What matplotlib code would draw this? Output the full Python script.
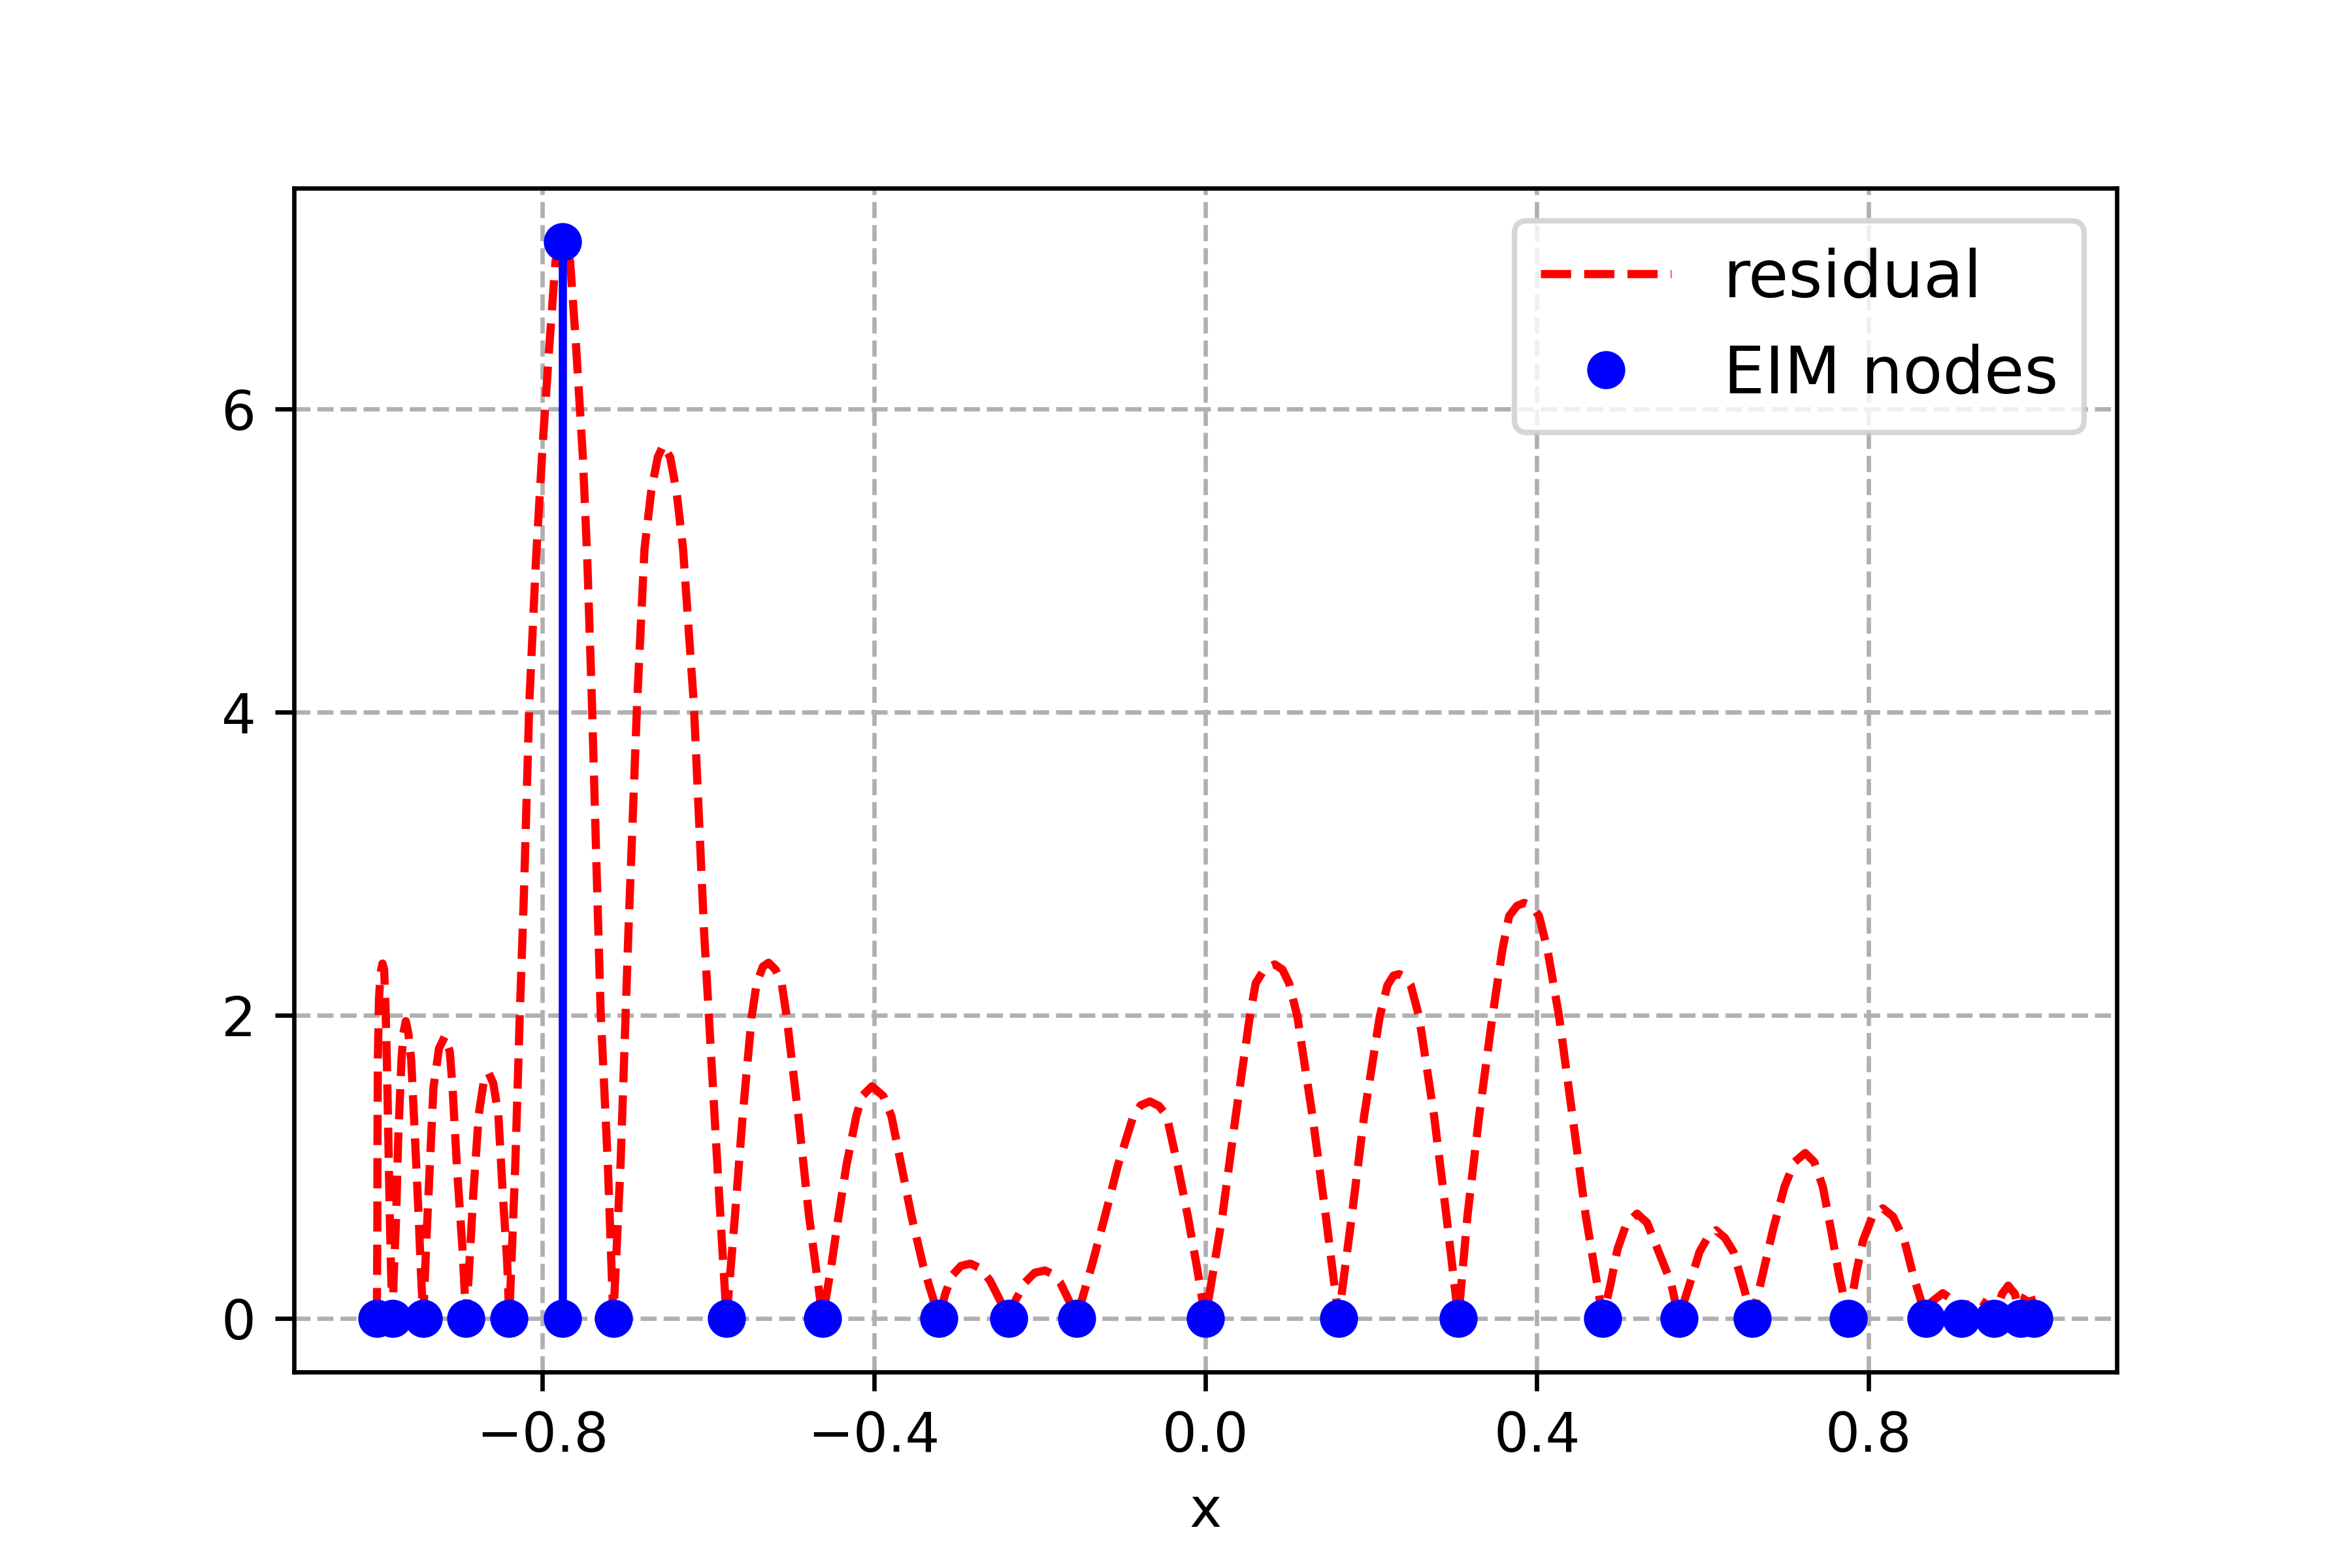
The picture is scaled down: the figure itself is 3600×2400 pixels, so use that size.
# EIM greedy step: residual |f - I_M f| over [-1, 1] with the current
# interpolation nodes and the next node picked at the residual maximum

import numpy as np
import matplotlib
matplotlib.use("Agg")
import matplotlib.pyplot as plt


residual_x = [
    # arch 1
    -1.0, -0.9994, -0.9992, -0.9988, -0.9975, -0.9955, -0.9932, -0.9912,
    -0.9895, -0.9877, -0.9862, -0.9845, -0.9828,
    # arch 2
    -0.981, -0.9796, -0.9769, -0.9743, -0.9703, -0.9680, -0.9651, -0.9620,
    -0.9585, -0.9538, -0.9493, -0.9467,
    # arch 3
    -0.944, -0.9406, -0.9362, -0.9317, -0.9250, -0.9178, -0.9120, -0.9086,
    -0.9033, -0.8968,
    # arch 4
    -0.8923, -0.8881, -0.8836, -0.8770, -0.8710, -0.8652, -0.8595, -0.8534,
    -0.8480, -0.8428,
    # arch 5 (the big one, max at the new node)
    -0.8402, -0.8330, -0.8275, -0.8225, -0.8160, -0.8080, -0.8000, -0.7920,
    -0.7845, -0.7800, -0.7760, -0.7720, -0.7667, -0.7600, -0.7548, -0.7513,
    -0.7460, -0.7404, -0.7350, -0.7299, -0.7211,
    # arch 6
    -0.7146, -0.7059, -0.6965, -0.6859, -0.6770, -0.6690, -0.6610, -0.6542,
    -0.6460, -0.6382, -0.6304, -0.6175, -0.6049, -0.5890,
    # arch 7
    -0.578, -0.5678, -0.5585, -0.5476, -0.5416, -0.5340, -0.5272, -0.5190,
    -0.5114, -0.5054, -0.4913, -0.4784,
    # arch 8
    -0.462, -0.4515, -0.4427, -0.4334, -0.4213, -0.4142, -0.4024, -0.3888,
    -0.3790, -0.3669, -0.3548, -0.3406,
    # arch 9
    -0.3214, -0.3140, -0.3060, -0.2950, -0.2836, -0.2720, -0.2602, -0.2490,
    # arch 10
    -0.2377, -0.2290, -0.2177, -0.2060, -0.1937, -0.1840, -0.1753, -0.1650,
    # arch 11
    -0.1555, -0.1372, -0.1211, -0.1058, -0.0869, -0.0780, -0.0669, -0.0560,
    -0.0467, -0.0334, -0.0213, -0.0105,
    # arch 12
    0.0, 0.0205, 0.0366, 0.0536, 0.0607, 0.0720, 0.0837, 0.0930,
    0.1010, 0.1110, 0.1292, 0.1453,
    # arch 13
    0.1607, 0.1767, 0.1916, 0.2104, 0.2197, 0.2270, 0.2338, 0.2410,
    0.2479, 0.2579, 0.2760, 0.2909,
    # arch 14
    0.3053, 0.3163, 0.3304, 0.3464, 0.3585, 0.3666, 0.3760, 0.3847,
    0.3940, 0.4027, 0.4128, 0.4269, 0.4430, 0.4591,
    # arch 15
    0.4797, 0.4894, 0.4974, 0.5080, 0.5210, 0.5330, 0.5458, 0.5619,
    # arch 16
    0.5714, 0.5843, 0.5963, 0.6060, 0.6164, 0.6270, 0.6374, 0.6487,
    # arch 17
    0.6600, 0.6728, 0.6849, 0.6989, 0.7110, 0.7239, 0.7350, 0.7452,
    0.7552, 0.7645,
    # arch 18
    0.7760, 0.7854, 0.7935, 0.8050, 0.8176, 0.8300, 0.8438, 0.8538,
    # arch 19-22 (tiny ones near x = 1)
    0.8700, 0.8770, 0.8900, 0.9020,
    0.9120, 0.9210, 0.9320, 0.9430,
    0.9520, 0.9615, 0.9690, 0.9770,
    0.9840, 0.9890, 0.9940, 0.9975, 1.0,
]

residual_y = [
    # arch 1
    0.0, 0.6, 1.2, 1.7, 2.1, 2.28, 2.34, 2.3,
    2.05, 1.65, 1.2, 0.7, 0.3,
    # arch 2
    0.0, 0.29, 0.64, 1.17, 1.70, 1.88, 1.96, 1.88,
    1.70, 1.17, 0.64, 0.29,
    # arch 3
    0.0, 0.47, 0.99, 1.52, 1.78, 1.86, 1.76, 1.52,
    0.99, 0.47,
    # arch 4
    0.0, 0.38, 0.82, 1.345, 1.56, 1.62, 1.55, 1.345,
    0.82, 0.38,
    # arch 5
    0.0, 1.0, 2.0, 2.8, 4.06, 5.0, 5.75, 6.4,
    6.97, 7.07, 7.1, 7.07, 6.97, 6.45, 5.99, 5.676,
    5.0, 4.06, 3.0, 2.025, 1.0,
    # arch 6
    0.0, 1.009, 2.533, 4.057, 5.074, 5.45, 5.68, 5.76,
    5.68, 5.45, 5.074, 4.057, 2.533, 1.009,
    # arch 7
    0.0, 0.675, 1.335, 1.99, 2.21, 2.32, 2.345, 2.30,
    2.21, 1.99, 1.335, 0.675,
    # arch 8
    0.0, 0.345, 0.675, 1.004, 1.335, 1.466, 1.53, 1.466,
    1.335, 1.004, 0.675, 0.345,
    # arch 9
    0.0, 0.16, 0.28, 0.345, 0.36, 0.33, 0.25, 0.13,
    # arch 10
    0.0, 0.12, 0.236, 0.30, 0.315, 0.29, 0.236, 0.12,
    # arch 11
    0.0, 0.345, 0.675, 1.004, 1.335, 1.405, 1.43, 1.40,
    1.335, 1.004, 0.675, 0.345,
    # arch 12
    0.0, 0.675, 1.335, 1.99, 2.21, 2.31, 2.334, 2.30,
    2.21, 1.99, 1.335, 0.675,
    # arch 13
    0.0, 0.675, 1.335, 1.99, 2.196, 2.26, 2.27, 2.25,
    2.196, 1.99, 1.335, 0.675,
    # arch 14
    0.0, 0.675, 1.335, 1.99, 2.433, 2.653, 2.72, 2.74,
    2.72, 2.653, 2.433, 1.99, 1.335, 0.675,
    # arch 15
    0.0, 0.236, 0.456, 0.62, 0.69, 0.63, 0.456, 0.236,
    # arch 16
    0.0, 0.222, 0.437, 0.53, 0.58, 0.53, 0.437, 0.222,
    # arch 17
    0.0, 0.294, 0.58, 0.867, 1.03, 1.09, 1.03, 0.867,
    0.58, 0.294,
    # arch 18
    0.0, 0.294, 0.509, 0.67, 0.725, 0.67, 0.509, 0.294,
    # arch 19-22
    0.0, 0.11, 0.165, 0.12,
    0.0, 0.09, 0.13, 0.09,
    0.0, 0.16, 0.215, 0.16,
    0.0, 0.14, 0.185, 0.12, 0.0,
]

# current EIM nodes (residual vanishes there), shown on the zero line
node_x = [-1.0, -0.981, -0.944, -0.8923, -0.8402, -0.776, -0.7146, -0.578,
          -0.462, -0.3214, -0.2377, -0.1555, 0.0, 0.1607, 0.3053, 0.4797,
          0.5714, 0.660, 0.776, 0.870, 0.912, 0.952, 0.984, 1.0]

# next node = argmax of the residual
new_x = -0.776
new_r = 7.1

x_ticks = [-0.8, -0.4, 0.0, 0.4, 0.8]
y_ticks = [0, 2, 4, 6]


fig, ax = plt.subplots(figsize=(6, 4), dpi=600)
fig.subplots_adjust(left=0.125, right=0.9, top=0.88, bottom=0.125)

ax.plot(residual_x, residual_y, "r--", label="residual")
ax.plot(node_x, np.zeros(len(node_x)), "bo", label="EIM nodes")
ax.plot([new_x, new_x], [0, new_r], "b-")
ax.plot(new_x, new_r, "bo")

ax.set_xticks(x_ticks)
ax.set_yticks(y_ticks)
ax.set_xlabel("x")
ax.grid(True, linestyle="--")
ax.legend(loc="upper right", fontsize="large")

fig.savefig("out.png", dpi=600)
plt.close(fig)
